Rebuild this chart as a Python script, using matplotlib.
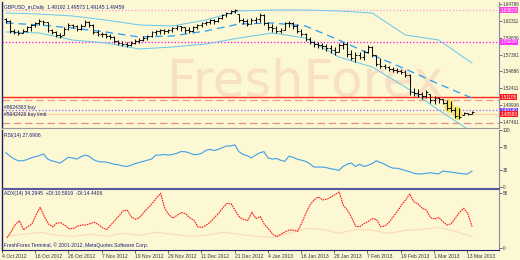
import matplotlib.pyplot as plt
from matplotlib.patches import Ellipse
import numpy as np

plt.rcParams['font.family'] = ['Liberation Sans', 'DejaVu Sans']

symbol_text = 'GBPUSD_m,Daily  1.49192 1.49573 1.49145 1.49459'
rsi_text = 'RSI(14) 27.6906'
adx_text = 'ADX(14) 34.2945  +DI:10.5919  -DI:14.4406'
copyright_text = 'FreshForex Terminal, \u00a9 2001-2012, MetaQuotes Software Corp.'

date_labels = ['4 Oct 2012', '16 Oct 2012', '26 Oct 2012', '7 Nov 2012', '19 Nov 2012',
               '29 Nov 2012', '11 Dec 2012', '21 Dec 2012', '4 Jan 2013', '16 Jan 2013',
               '28 Jan 2013', '7 Feb 2013', '19 Feb 2013', '1 Mar 2013', '13 Mar 2013']

close = [1.6229, 1.6082, 1.6068, 1.6053, 1.6082, 1.6141, 1.6171, 1.6200, 1.6229, 1.6215,
         1.6097, 1.6068, 1.6024, 1.6009, 1.6112, 1.6171, 1.6156, 1.6112, 1.6156, 1.6215,
         1.6171, 1.6068, 1.6038, 1.6038, 1.6009, 1.5994, 1.5935, 1.5906, 1.5891, 1.5877,
         1.5906, 1.5935, 1.5950, 1.5979, 1.6009, 1.6068, 1.6082, 1.6097, 1.6082, 1.6097,
         1.6126, 1.6156, 1.6141, 1.6097, 1.6082, 1.6141, 1.6171, 1.6200, 1.6215, 1.6244,
         1.6229, 1.6273, 1.6318, 1.6347, 1.6376, 1.6391, 1.6244, 1.6229, 1.6185, 1.6244,
         1.6259, 1.6318, 1.6200, 1.6141, 1.6126, 1.6082, 1.6097, 1.6200, 1.6200, 1.6156,
         1.6082, 1.6038, 1.5965, 1.5921, 1.5891, 1.5877, 1.5862, 1.5832, 1.5803, 1.5774,
         1.5877, 1.5891, 1.5744, 1.5685, 1.5730, 1.5700, 1.5774, 1.5847, 1.5730, 1.5597,
         1.5568, 1.5553, 1.5524, 1.5509, 1.5494, 1.5480, 1.5436, 1.5186, 1.5171, 1.5156,
         1.5127, 1.5186, 1.5068, 1.5097, 1.5083, 1.5024, 1.4950, 1.4921, 1.4833, 1.4818,
         1.4877, 1.4862, 1.4892]
high = [1.6273, 1.6244, 1.6112, 1.6097, 1.6112, 1.6156, 1.6185, 1.6215, 1.6259, 1.6244,
        1.6215, 1.6112, 1.6082, 1.6053, 1.6141, 1.6200, 1.6185, 1.6171, 1.6185, 1.6244,
        1.6229, 1.6185, 1.6097, 1.6068, 1.6053, 1.6038, 1.6009, 1.5950, 1.5935, 1.5921,
        1.5935, 1.5965, 1.5979, 1.6009, 1.6024, 1.6082, 1.6097, 1.6112, 1.6112, 1.6112,
        1.6141, 1.6171, 1.6156, 1.6141, 1.6141, 1.6156, 1.6185, 1.6215, 1.6229, 1.6259,
        1.6259, 1.6288, 1.6332, 1.6362, 1.6391, 1.6406, 1.6332, 1.6273, 1.6259, 1.6273,
        1.6288, 1.6347, 1.6332, 1.6215, 1.6185, 1.6156, 1.6126, 1.6215, 1.6229, 1.6215,
        1.6185, 1.6112, 1.6053, 1.5994, 1.5935, 1.5921, 1.5906, 1.5891, 1.5877, 1.5847,
        1.5906, 1.5921, 1.5921, 1.5803, 1.5774, 1.5774, 1.5803, 1.5877, 1.5862, 1.5730,
        1.5685, 1.5597, 1.5568, 1.5553, 1.5538, 1.5524, 1.5509, 1.5450, 1.5244, 1.5230,
        1.5186, 1.5215, 1.5156, 1.5127, 1.5112, 1.5083, 1.5068, 1.5053, 1.4965, 1.4950,
        1.4892, 1.4877, 1.4906]
low = [1.6200, 1.6053, 1.6038, 1.6024, 1.6053, 1.6068, 1.6082, 1.6141, 1.6171, 1.6171,
       1.6068, 1.6038, 1.5994, 1.5979, 1.6024, 1.6097, 1.6126, 1.6082, 1.6097, 1.6156,
       1.6141, 1.6038, 1.6009, 1.5994, 1.5979, 1.5965, 1.5906, 1.5877, 1.5862, 1.5847,
       1.5862, 1.5891, 1.5906, 1.5935, 1.5950, 1.5994, 1.6024, 1.6038, 1.6038, 1.6053,
       1.6068, 1.6097, 1.6082, 1.6053, 1.6053, 1.6068, 1.6112, 1.6141, 1.6171, 1.6185,
       1.6185, 1.6215, 1.6259, 1.6288, 1.6332, 1.6347, 1.6215, 1.6185, 1.6156, 1.6185,
       1.6200, 1.6215, 1.6171, 1.6097, 1.6068, 1.6053, 1.6053, 1.6097, 1.6141, 1.6112,
       1.6053, 1.6009, 1.5935, 1.5891, 1.5847, 1.5832, 1.5818, 1.5788, 1.5759, 1.5730,
       1.5774, 1.5818, 1.5700, 1.5656, 1.5627, 1.5671, 1.5656, 1.5759, 1.5700, 1.5568,
       1.5538, 1.5524, 1.5494, 1.5480, 1.5465, 1.5450, 1.5406, 1.5142, 1.5127, 1.5112,
       1.5083, 1.5097, 1.5024, 1.5009, 1.5024, 1.5009, 1.4921, 1.4892, 1.4803, 1.4789,
       1.4848, 1.4848, 1.4862]
first_open = 1.6259

# bands sampled every 8 bars
band_step = 8
band_up = [1.6347, 1.6332, 1.6303, 1.6244, 1.6171, 1.6156, 1.6244, 1.6376, 1.6391, 1.6391,
           1.6376, 1.6347, 1.6024, 1.5950, 1.5612]
band_mid = [1.6200, 1.6171, 1.6126, 1.6068, 1.5994, 1.6009, 1.6082, 1.6185, 1.6200, 1.6156,
            1.5950, 1.5730, 1.5524, 1.5303, 1.5097]
band_low = [1.6068, 1.6053, 1.5950, 1.5906, 1.5818, 1.5847, 1.5891, 1.5979, 1.6053, 1.5979,
            1.5700, 1.5553, 1.5259, 1.4921, 1.4599]

rsi = [60, 54, 49, 46, 46, 48, 51, 53, 55, 58,
       49, 46, 44, 42, 47, 52, 51, 49, 53, 56,
       54, 48, 45, 44, 44, 42, 40, 39, 37, 36,
       38, 41, 43, 45, 47, 49, 56, 56, 57, 56,
       57, 59, 62, 62, 60, 57, 57, 59, 64, 66,
       64, 66, 69, 72, 72, 74, 62, 57, 55, 51,
       56, 60, 62, 51, 49, 50, 47, 45, 54, 52,
       49, 47, 45, 41, 35, 35, 35, 34, 32, 31,
       29, 36, 40, 42, 36, 40, 36, 38, 41, 46,
       43, 40, 36, 33, 33, 31, 29, 27, 24, 23,
       23, 24, 25, 24, 23, 28, 27, 26, 25, 24,
       23, 23, 27.69]

adx = [10.5, 16.6, 24, 27.8, 18.5, 21.7, 24.5, 33.8, 41.4, 31.9,
       24.5, 21.5, 25.5, 25.6, 23, 19.5, 20, 22.3, 23.4, 23.4,
       24.8, 26.3, 24, 20.5, 18.8, 23.4, 28, 33, 38, 38.5,
       31.5, 29.2, 31.5, 36.5, 41, 45.5, 51, 55.7, 40.5, 33.6,
       30.5, 33.5, 36.2, 35, 30.8, 28.5, 21.5, 21, 23.3, 26.5,
       31.2, 35.5, 41, 45.5, 45, 38, 31.5, 29, 28, 36.5,
       30, 32, 24, 19.5, 14, 11.5, 14.2, 16.5, 18.5, 18.2,
       17, 25.5, 35.5, 44, 49.2, 52, 49, 49.6, 51.8, 54.5,
       57, 43.5, 38.5, 31, 22, 21.8, 24.8, 27, 30, 29,
       21.8, 22.5, 26, 31.7, 37.3, 43.6, 49, 55, 47, 45,
       40.5, 38.7, 31, 29.5, 31.2, 26.7, 23.4, 24.8, 30.4, 36.3,
       40.5, 35, 21.7]
di_step = 4
di_line = [12, 14, 16, 13, 12, 14, 12, 15, 13, 16, 14, 12, 13, 16, 14,
           12, 11, 15, 20, 19, 15, 19, 18, 15, 18, 19, 21, 17, 11.5]

price_ticks = [1.64786, 1.62311, 1.59836, 1.57361, 1.54886, 1.52411, 1.49936, 1.47461]
level_prices = [1.63873, 1.59208, 1.51105, 1.5075, 1.4914, 1.48593, 1.4730]
level_styles = [('#ff9ad8', ':', 0.9), ('#ff00ff', ':', 0.9), ('#ff2a1a', '-', 1.0),
                ('#f29a8e', (0, (6, 3)), 0.9), ('#9b5cff', ':', 0.9),
                ('#ffd2a0', '-', 1.0), ('#e89088', (0, (6, 3)), 0.9)]
box_prices = [1.63873, 1.59208, 1.51105, 1.49140, 1.48593]
box_colors = ['#ff3fe0', '#ff33ff', '#ff1a1a', '#7a3cff', '#ff1a1a']
signal_pairs = [(106, 107), (108, 109)]

bg = '#fbf8d3'
navy = '#1c1c78'
n = len(close)
x = np.arange(n)
opens = np.clip([first_open] + close[:-1], low, high)

fig = plt.figure(figsize=(5.2, 2.6), dpi=100, facecolor=bg)
W, H = 520.0, 260.0
def axes_px(x0, y0, x1, y1):
    return fig.add_axes([x0 / W, 1 - y1 / H, (x1 - x0) / W, (y1 - y0) / H], facecolor=bg)

ax = axes_px(2, 2, 499, 128)
ax_rsi = axes_px(2, 130, 499, 188)
ax_adx = axes_px(2, 189, 499, 250)
xlim = (-0.96, 118.5)

for a in (ax, ax_rsi, ax_adx):
    a.set_xlim(*xlim)
    a.set_xticks([])
    a.yaxis.tick_right()
    a.tick_params(axis='y', length=2, width=0.5, pad=1.0, labelsize=3.3,
                  colors='#303040', direction='out')
    for s in ('top', 'bottom'):
        a.spines[s].set_visible(False)
    a.spines['left'].set_color(navy)
    a.spines['left'].set_linewidth(1.0)
    a.spines['right'].set_color('#8a8ab0')
    a.spines['right'].set_linewidth(0.8)

# main price panel
ax.set_ylim(1.46564, 1.65086)
ax.set_yticks(price_ticks)
ax.set_yticklabels(['%.5f' % p for p in price_ticks])
ax.spines['bottom'].set_visible(True)
ax.spines['bottom'].set_color('#9a9a9a')

ax.text(0.61, 0.36, 'FreshForex', transform=ax.transAxes, fontsize=37,
        family='DejaVu Sans', color='#f8e0c4', ha='center', va='center', zorder=0)

for p, (col, ls, lw) in zip(level_prices, level_styles):
    ax.axhline(p, color=col, ls=ls, lw=lw, zorder=1)

bx = np.arange(0, n, band_step)
ax.plot(bx, band_up, color='#66c8ee', lw=0.7, zorder=2)
ax.plot(bx, band_low, color='#66c8ee', lw=0.7, zorder=2)
ax.plot(bx, band_mid, color='#2a9df4', lw=0.9, ls=(0, (6, 4)), zorder=2)

for a, b in signal_pairs:
    top = max(high[a], high[b])
    bot = min(low[a], low[b])
    ax.add_patch(Ellipse(((a + b) / 2, (top + bot) / 2), 2.2, (top - bot) * 1.15,
                         facecolor='#f2e23c', edgecolor='none', alpha=0.8, zorder=2))

ax.vlines(x, low, high, color='#111111', lw=0.75, zorder=3)
ax.hlines(opens, x - 0.45, x, color='#111111', lw=0.75, zorder=3)
ax.hlines(close, x, x + 0.45, color='#111111', lw=0.75, zorder=3)

ax.text(0.005, 0.955, symbol_text, transform=ax.transAxes, fontsize=3.6,
        color=navy, va='center')
ax.text(0.005, 1.4958, '#8624363 buy', fontsize=3.6, color=navy, va='center',
        transform=ax.get_yaxis_transform())
ax.text(0.005, 1.4858, '#5642426 buy limit', fontsize=3.6, color=navy, va='center',
        transform=ax.get_yaxis_transform())

for p, col in zip(box_prices, box_colors):
    ax.text(1.003, p, '%.5f' % p, transform=ax.get_yaxis_transform(), fontsize=3.3,
            color='white', va='center', ha='left', clip_on=False,
            bbox=dict(boxstyle='square,pad=0.1', facecolor=col, edgecolor='none'))

# RSI panel
ax_rsi.set_ylim(-1.75, 100)
ax_rsi.set_yticks([100, 70, 30, 0])
ax_rsi.plot(x, rsi, color='#3f9ee8', lw=0.8)
ax_rsi.text(0.005, 0.91, rsi_text, transform=ax_rsi.transAxes, fontsize=3.6,
            color=navy, va='center')
ax_rsi.spines['bottom'].set_visible(True)
ax_rsi.spines['bottom'].set_color('#5a5aa0')

# ADX panel
ax_adx.set_ylim(-2.0, 60.1)
ax_adx.set_yticks([56, 0])
ax_adx.plot(np.arange(0, n, di_step), di_line, color='#fbd8b8', lw=0.8)
ax_adx.plot(x, adx, color='#ff1a1a', lw=0.8, ls=(0, (1.5, 0.7)))
ax_adx.text(0.005, 0.93, adx_text, transform=ax_adx.transAxes, fontsize=3.6,
            color=navy, va='center')
ax_adx.text(0.005, 0.08, copyright_text, transform=ax_adx.transAxes, fontsize=3.6,
            color=navy, va='center')
ax_adx.spines['top'].set_visible(True)
ax_adx.spines['top'].set_color('#5a5aa0')
ax_adx.spines['bottom'].set_visible(True)
ax_adx.spines['bottom'].set_color(navy)
ax_adx.spines['bottom'].set_linewidth(0.8)

ax_adx.set_xticks(np.arange(0, n, 8) - 1.2)
ax_adx.set_xticklabels(date_labels, ha='left')
ax_adx.tick_params(axis='x', length=2, width=0.5, pad=0.8, labelsize=3.6,
                   colors='#303040')

fig.savefig('out.png', dpi=100, facecolor=bg)
